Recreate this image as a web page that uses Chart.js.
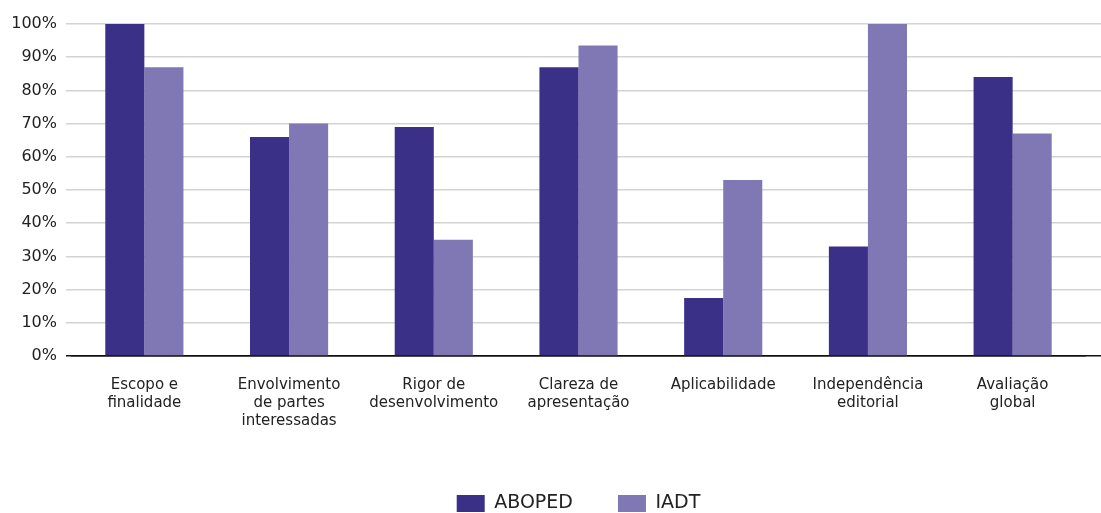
<!DOCTYPE html>
<html>
<head>
<meta charset="utf-8">
<script src="https://cdn.jsdelivr.net/npm/chart.js@4"></script>
<style>
  html, body { margin: 0; padding: 0; background: #fff; overflow: hidden; }
  #wrap { width: 1101px; height: 513px; }
</style>
</head>
<body>
<div id="wrap"><canvas id="grafico" width="1101" height="513"></canvas></div>
<script>
// Dados (percentuais)
var categorias = [
  ['Escopo e', 'finalidade'],
  ['Envolvimento', 'de partes', 'interessadas'],
  ['Rigor de', 'desenvolvimento'],
  ['Clareza de', 'apresentação'],
  'Aplicabilidade',
  ['Independência', 'editorial'],
  ['Avaliação', 'global']
];
var aboped = [100, 66, 69, 87, 17.5, 33, 84];
var iadt = [87, 70, 35, 93.5, 53, 100, 67];
var ticksY = [0, 10, 20, 30, 40, 50, 60, 70, 80, 90, 100];

var corTexto = '#222222';
var corGrade = '#d3d3d3';

// cor da grade: linha do zero em preto
function corLinha(ctx) {
  return ctx.tick && ctx.tick.value === 0 ? '#111111' : corGrade;
}

new Chart(document.getElementById('grafico'), {
  type: 'bar',
  data: {
    labels: categorias,
    datasets: [
      {
        label: 'ABOPED',
        data: aboped,
        backgroundColor: '#3a3087',
        borderWidth: 0
      },
      {
        label: 'IADT',
        data: iadt,
        backgroundColor: '#8078b5',
        borderWidth: 0
      }
    ]
  },
  options: {
    responsive: false,
    animation: false,
    layout: { padding: { top: 24, bottom: -10, left: 0, right: 0 } },
    datasets: {
      bar: { categoryPercentage: 0.54, barPercentage: 1 }
    },
    plugins: {
      tooltip: { enabled: false },
      legend: {
        position: 'bottom',
        fullSize: false, // centraliza a legenda na área do gráfico
        labels: {
          boxWidth: 28,
          boxHeight: 17,
          padding: 45,
          color: corTexto,
          font: { family: 'DejaVu Sans', size: 19 }
        }
      }
    },
    scales: {
      x: {
        grid: { display: false },
        border: { display: true, color: '#111111', width: 1.5 },
        ticks: {
          color: corTexto,
          maxRotation: 0,
          autoSkip: false,
          padding: 12,
          font: { family: 'DejaVu Sans', size: 15, lineHeight: 1.2 }
        },
        afterFit: function(s) { s.height = 93; }
      },
      y: {
        min: 0,
        max: 100,
        afterBuildTicks: function(s) { s.ticks = ticksY.map(function(v) { return { value: v }; }); },
        grid: { color: corLinha, lineWidth: 1.5, tickLength: 6 },
        border: { display: false },
        ticks: {
          color: corTexto,
          padding: 9,
          font: { family: 'DejaVu Sans', size: 16 },
          callback: function(v) { return v + '%'; }
        },
        afterFit: function(s) { s.width = 72; }
      },
      y2: {
        position: 'right',
        min: 0,
        max: 100,
        afterBuildTicks: function(s) { s.ticks = ticksY.map(function(v) { return { value: v }; }); },
        grid: { color: corLinha, lineWidth: 1.5, tickLength: 16, drawOnChartArea: false },
        border: { display: false },
        ticks: { display: false },
        afterFit: function(s) { s.width = 16; }
      }
    }
  }
});
</script>
</body>
</html>
